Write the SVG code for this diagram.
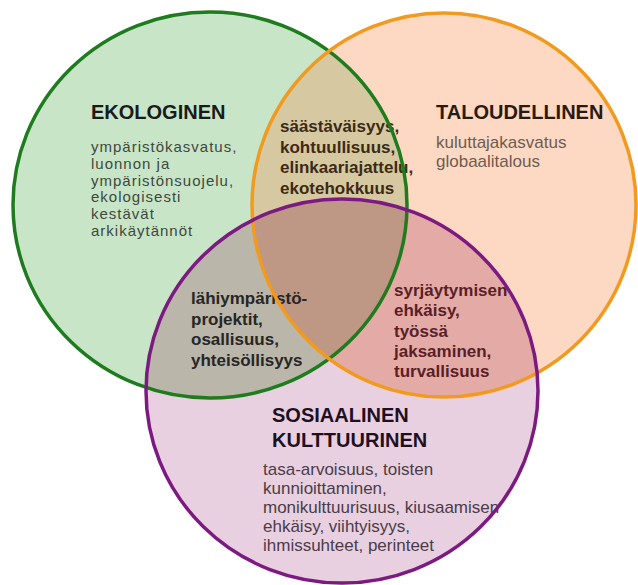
<svg xmlns="http://www.w3.org/2000/svg" width="638" height="585" viewBox="0 0 638 585">
  <style>
    text { font-family: "Liberation Sans", Arial, sans-serif; }
    .title { font-size: 20px; font-weight: bold; }
    .bold { font-size: 17px; font-weight: bold; }
    .body { font-size: 17px; }
    .eko { font-size: 15px; letter-spacing: 1px; }
    .ring { fill: none; stroke-width: 3.5; }
  </style>
  <defs>
    <clipPath id="clipG"><ellipse cx="210" cy="205" rx="197" ry="193"/></clipPath>
    <clipPath id="clipO"><circle cx="444" cy="205" r="192"/></clipPath>
  </defs>
  <rect width="638" height="585" fill="#ffffff"/>

  <g id="fills">
    <ellipse id="fill-ekologinen" cx="210" cy="205" rx="197" ry="193" fill="#c8e5c8"/>
    <circle id="fill-taloudellinen" cx="444" cy="205" r="192" fill="#fdd9c3"/>
    <ellipse id="fill-sosiaalinen" cx="342" cy="391" rx="196" ry="192" fill="#e9d0e1"/>
  </g>

  <g id="overlaps">
    <g clip-path="url(#clipG)"><circle cx="444" cy="205" r="192" fill="#d6c9a1"/></g>
    <g clip-path="url(#clipG)"><ellipse cx="342" cy="391" rx="196" ry="192" fill="#bab6a9"/></g>
    <g clip-path="url(#clipO)"><ellipse cx="342" cy="391" rx="196" ry="192" fill="#e4aba6"/></g>
    <g clip-path="url(#clipG)"><g clip-path="url(#clipO)"><ellipse cx="342" cy="391" rx="196" ry="192" fill="#bf9785"/></g></g>
  </g>

  <g id="ekologinen">
    <text class="title" x="91" y="119" fill="#1a1a1a">EKOLOGINEN</text>
    <g class="eko" fill="#3e483e">
      <text x="91" y="152">ympäristökasvatus,</text>
      <text x="91" y="168.8">luonnon ja</text>
      <text x="91" y="185.6">ympäristönsuojelu,</text>
      <text x="91" y="202.4">ekologisesti</text>
      <text x="91" y="219.2">kestävät</text>
      <text x="91" y="236">arkikäytännöt</text>
    </g>
  </g>

  <g id="taloudellinen">
    <text class="title" x="436" y="119" fill="#2a1a12">TALOUDELLINEN</text>
    <g class="body" fill="#6e5c52">
      <text x="436" y="148">kuluttajakasvatus</text>
      <text x="436" y="167">globaalitalous</text>
    </g>
  </g>

  <g id="sosiaalinen-kulttuurinen">
    <text class="title" x="272" y="422" fill="#1e101e">SOSIAALINEN</text>
    <text class="title" x="272" y="447" fill="#1e101e">KULTTUURINEN</text>
    <g class="body" fill="#4a3c48">
      <text x="263" y="475">tasa-arvoisuus, toisten</text>
      <text x="263" y="494">kunnioittaminen,</text>
      <text x="263" y="513">monikulttuurisuus, kiusaamisen</text>
      <text x="263" y="532">ehkäisy, viihtyisyys,</text>
      <text x="263" y="551">ihmissuhteet, perinteet</text>
    </g>
  </g>

  <g id="ekologinen-taloudellinen">
    <g class="bold" fill="#3c2a16">
      <text x="280" y="132">säästäväisyys,</text>
      <text x="280" y="153">kohtuullisuus,</text>
      <text x="280" y="173">elinkaariajattelu,</text>
      <text x="280" y="194">ekotehokkuus</text>
    </g>
  </g>

  <g id="ekologinen-sosiaalinen">
    <g class="bold" fill="#262626">
      <text x="191" y="304">lähiympäristö-</text>
      <text x="191" y="325">projektit,</text>
      <text x="191" y="345">osallisuus,</text>
      <text x="191" y="366">yhteisöllisyys</text>
    </g>
  </g>

  <g id="taloudellinen-sosiaalinen">
    <g class="bold" fill="#5a1e26">
      <text x="394" y="296">syrjäytymisen</text>
      <text x="394" y="316">ehkäisy,</text>
      <text x="394" y="337">työssä</text>
      <text x="394" y="357">jaksaminen,</text>
      <text x="394" y="377">turvallisuus</text>
    </g>
  </g>

  <g id="outlines">
    <ellipse class="ring" cx="210" cy="205" rx="197" ry="193" stroke="#1e7b1e"/>
    <circle class="ring" cx="444" cy="205" r="192" stroke="#f29a1e"/>
    <ellipse class="ring" cx="342" cy="391" rx="196" ry="192" stroke="#7c1a82"/>
  </g>
</svg>
